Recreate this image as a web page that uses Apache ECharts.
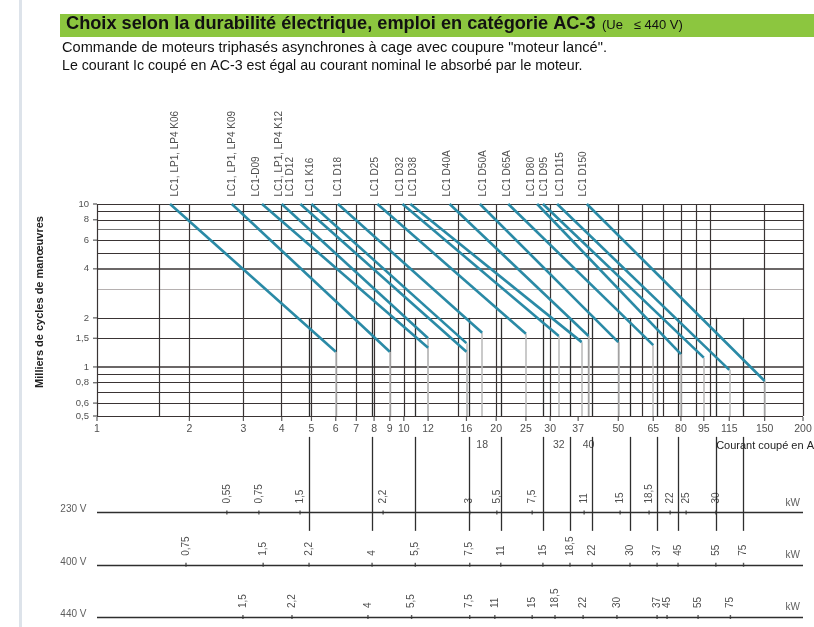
<!DOCTYPE html>
<html><head><meta charset="utf-8">
<script src="https://cdn.jsdelivr.net/npm/echarts@6/dist/echarts.min.js"></script>
<style>html,body{margin:0;padding:0;background:#fff}#c{width:814px;height:627px}</style>
</head><body><div id="c"></div>
<script>
// ---------- DATA ----------
const contactors = ['LC1, LP1, LP4 K06','LC1, LP1, LP4 K09','LC1-D09','LC1, LP1, LP4 K12','LC1 D12','LC1 K16','LC1 D18','LC1 D25','LC1 D32','LC1 D38','LC1 D40A','LC1 D50A','LC1 D65A','LC1 D80','LC1 D95','LC1 D115','LC1 D150'];
const startCurrent = [1.73,2.75,3.45,4.0,4.6,5.0,6.1,8.2,9.9,10.5,14.1,17.7,21.9,27.2,28.4,31.6,39.5];
const startCycles = [10,10,10,10,10,10,10,10,10,10,10,10,10,10,10,10,10];
const endCurrent = [6,9,12,12,16,16,18,25,32,38,40,50,65,80,95,115,150];
const endCycles = [1.24,1.24,1.31,1.5,1.24,1.4,1.62,1.6,1.55,1.42,1.55,1.42,1.36,1.2,1.14,0.96,0.82];

const hGrid = [10,9,8,7,6,5,4,3,2,1.5,1,0.9,0.8,0.7,0.6,0.5];
const vGrid = [1,1.6,2,3,4,5,6,7,8,9,10,15,20,30,40,50,60,70,80,90,100,150,200];
const xTicksMain = [1,2,3,4,5,6,7,8,9,10,12,16,20,25,30,37,50,65,80,95,115,150,200];
const xTicksLow = [18,32,40];
const yTicks = [10,8,6,4,2,1.5,1,0.8,0.6,0.5];

const voltages = ['230 V','400 V','440 V'];
const kw230 = ['0,55','0,75','1,5','2,2','3','5,5','7,5','11','15','18,5','22','25','30'];
const amp230 = [2.65,3.37,4.59,8.56,16.4,20.1,26.2,38.7,50.7,63.0,73.8,83.2,104];
const kw400 = ['0,75','1,5','2,2','4','5,5','7,5','11','15','18,5','22','30','37','45','55','75'];
const amp400 = [1.95,3.48,4.91,7.88,10.9,16.4,20.7,28.4,34.8,41.1,54.6,66.9,78.3,104,128];
const kw440 = ['1,5','2,2','4','5,5','7,5','11','15','18,5','22','30','37','45','55','75'];
const amp440 = [2.99,4.32,7.64,10.6,16.4,19.8,26.2,31.1,38.4,49.5,66.9,72.1,91.0,116];

// ---------- LAYOUT / STYLE ----------
const FONT = "'Liberation Sans', Arial, sans-serif";
const GRID_C = '#3a3434';
const CURVE_C = '#2a8aa6';
const ROWS = [1.85, 2.85, 3.85];     // kW row positions in lower panel
const DROP_TOP = 0.4, DROP_BOTTOM = 2.2;
const labelShift = [5,0,-6,-2,-10,-1,0,-2,-2,3,-2,3,-1,-6,1,3,-4];   // px nudges of the rotated name labels
const fmt = v => String(v).replace('.', ',');
const dropAmp = amp400.slice(2);

const chart = echarts.init(document.getElementById('c'), null, {renderer:'canvas'});

const series = [];

// grid lines (upper panel)
series.push({
  type:'line', xAxisIndex:0, yAxisIndex:0, data:[[1,0.5]], symbol:'none', lineStyle:{width:0}, silent:true,
  markLine:{
    silent:true, symbol:['none','none'], label:{show:false}, animation:false,
    data: [].concat(
      hGrid.map(v => ({yAxis:v, lineStyle:{color: v===3 ? '#b5b0b0' : (v===7 ? '#777' : GRID_C), width: (v===4||v===1) ? 1.6 : 1.2, type:'solid'}})),
      vGrid.map(v => ({xAxis:v, lineStyle:{color:GRID_C, width:1.2, type:'solid'}})),
      endCurrent.map((x,i) => [{coord:[x, endCycles[i]], lineStyle:{color:'#bdbdbd', width:1.6, type:'solid'}}, {coord:[x, 0.5]}]),
      dropAmp.map(x => [{coord:[x, 2], lineStyle:{color:'#2e2e2e', width:1.3, type:'solid'}}, {coord:[x, 0.5]}])
    )
  }
});

// curves
contactors.forEach((name,i) => {
  series.push({
    type:'line', name, xAxisIndex:0, yAxisIndex:0, symbol:'none', z:5,
    data:[[startCurrent[i], startCycles[i]],[endCurrent[i], endCycles[i]]],
    lineStyle:{color:CURVE_C, width:2.6}
  });
});

// contactor labels at top
series.push({
  type:'scatter', xAxisIndex:0, yAxisIndex:0, clip:false, symbol:'circle', symbolSize:1,
  itemStyle:{color:'rgba(0,0,0,0)'}, z:6,
  data: contactors.map((n,i) => ({name:n, value:[startCurrent[i], startCycles[i]], label:{offset:[0,labelShift[i]]}})),
  label:{show:true, formatter:'{b}', position:'top', distance:7, rotate:90, align:'left', verticalAlign:'middle',
         color:'#222', fontSize:10, fontFamily:FONT}
});

// x tick labels
series.push({
  type:'scatter', xAxisIndex:0, yAxisIndex:0, clip:false, symbol:'rect', symbolSize:[1.2,4], symbolOffset:[0,3],
  itemStyle:{color:'#333'}, z:6,
  data: xTicksMain.map(v => ({name:String(v), value:[v,0.5]})),
  label:{show:true, formatter:'{b}', position:'bottom', distance:3, color:'#222', fontSize:10.5, fontFamily:FONT}
});
series.push({
  type:'scatter', xAxisIndex:0, yAxisIndex:0, clip:false, symbol:'circle', symbolSize:1,
  itemStyle:{color:'rgba(0,0,0,0)'}, z:6,
  data: xTicksLow.map(v => ({name:String(v), value:[v,0.5]})),
  label:{show:true, formatter:'{b}', position:'bottom', distance:23, color:'#222', fontSize:10.5, fontFamily:FONT}
});
// y tick labels
series.push({
  type:'scatter', xAxisIndex:0, yAxisIndex:0, clip:false, symbol:'rect', symbolSize:[4,1.2], symbolOffset:[-2,0],
  itemStyle:{color:'#333'}, z:6,
  data: yTicks.map(v => ({name:fmt(v), value:[1,v]})),
  label:{show:true, formatter:'{b}', position:'left', distance:4, color:'#222', fontSize:9.5, fontFamily:FONT}
});

// lower panel: row lines and drop lines
series.push({
  type:'line', xAxisIndex:1, yAxisIndex:1, data:[[1,0]], symbol:'none', lineStyle:{width:0}, silent:true,
  markLine:{
    silent:true, symbol:['none','none'], label:{show:false}, animation:false,
    data: [].concat(
      ROWS.map(r => ({yAxis:r, lineStyle:{color:'#2e2e2e', width:1.3, type:'solid'}})),
      dropAmp.map(x => [{coord:[x, DROP_TOP], lineStyle:{color:'#2e2e2e', width:1.3, type:'solid'}}, {coord:[x, DROP_BOTTOM]}])
    )
  }
});

// kW ticks and labels
[[amp230,kw230],[amp400,kw400],[amp440,kw440]].forEach(([amps,kws],ri) => {
  series.push({
    type:'scatter', xAxisIndex:1, yAxisIndex:1, clip:false, symbol:'rect', symbolSize:[1.4,4],
    itemStyle:{color:'#333'}, z:6,
    data: amps.map((a,i) => ({name:kws[i], value:[a, ROWS[ri]]})),
    label:{show:true, formatter:'{b}', position:'top', distance:7, rotate:90, align:'left', verticalAlign:'middle',
           color:'#222', fontSize:10, fontFamily:FONT}
  });
});
// row labels + kW unit
series.push({
  type:'scatter', xAxisIndex:1, yAxisIndex:1, clip:false, symbol:'circle', symbolSize:1,
  itemStyle:{color:'rgba(0,0,0,0)'}, z:6,
  data: voltages.map((v,i) => ({name:v, value:[1, ROWS[i]]})),
  label:{show:true, formatter:'{b}', position:'left', distance:10, offset:[0,-3], color:'#333', fontSize:10, fontFamily:FONT}
});
series.push({
  type:'scatter', xAxisIndex:1, yAxisIndex:1, clip:false, symbol:'circle', symbolSize:1,
  itemStyle:{color:'rgba(0,0,0,0)'}, z:6,
  data: voltages.map((v,i) => ({name:'kW', value:[185, ROWS[i]]})),
  label:{show:true, formatter:'{b}', position:'top', distance:4, color:'#333', fontSize:10, fontFamily:FONT}
});

const option = {
  animation:false,
  backgroundColor:'#fff',
  grid:[
    {left:97, right:11, top:204, bottom:211},
    {left:97, right:11, top:416, bottom:10}
  ],
  xAxis:[
    {type:'log', logBase:10, gridIndex:0, min:1, max:200, show:false},
    {type:'log', logBase:10, gridIndex:1, min:1, max:200, show:false}
  ],
  yAxis:[
    {type:'log', logBase:10, gridIndex:0, min:0.5, max:10, show:false},
    {type:'value', gridIndex:1, min:0, max:3.85, inverse:true, show:false}
  ],
  graphic:[
    {type:'rect', left:19, top:0, shape:{width:3, height:627}, style:{fill:'#dde3ea'}, silent:true},
    {type:'rect', left:60, top:14, shape:{width:754, height:23}, style:{fill:'#8cc63f'}, silent:true},
    {type:'text', left:66, top:15, style:{text:'Choix selon la durabilité électrique, emploi en catégorie AC-3', font:"bold 18.2px "+FONT, fill:'#111'}},
    {type:'text', left:602, top:19, style:{text:'(Ue   ≤ 440 V)', font:"13px "+FONT, fill:'#111'}},
    {type:'text', left:62, top:40, style:{text:'Commande de moteurs triphasés asynchrones à cage avec coupure "moteur lancé".', font:"14.6px "+FONT, fill:'#111'}},
    {type:'text', left:62, top:59, style:{text:'Le courant Ic coupé en AC-3 est égal au courant nominal Ie absorbé par le moteur.', font:"14.2px "+FONT, fill:'#111'}},
    {type:'text', x:40, y:302, rotation:Math.PI/2, style:{text:'Milliers de cycles de manœuvres', font:"bold 11px "+FONT, fill:'#222', align:'center', verticalAlign:'middle'}},
    {type:'text', right:0, top:440, style:{text:'Courant coupé en A', font:"11px "+FONT, fill:'#222'}}
  ],
  series
};
chart.setOption(option);
</script>
</body></html>
